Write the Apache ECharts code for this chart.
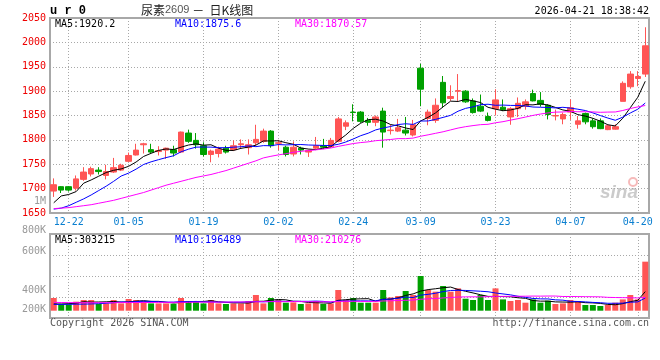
<!DOCTYPE html>
<html><head><meta charset="utf-8">
<script src="https://cdn.jsdelivr.net/npm/echarts@6/dist/echarts.min.js"></script>
<style>html,body{margin:0;padding:0;background:#fff}#c{width:660px;height:360px}</style>
</head><body><div id="c"></div>
<script>
const dates = ['12-18','12-19','12-22','12-23','12-24','12-25','12-26','12-29','12-30','12-31',
'01-05','01-06','01-07','01-08','01-09','01-12','01-13','01-14','01-15','01-16',
'01-19','01-20','01-21','01-22','01-23','01-26','01-27','01-28','01-29','01-30',
'02-02','02-03','02-04','02-05','02-06','02-09','02-10','02-11','02-12','02-13',
'02-24','02-25','02-26','02-27','03-02','03-03','03-04','03-05','03-06',
'03-09','03-10','03-11','03-12','03-13','03-16','03-17','03-18','03-19','03-20',
'03-23','03-24','03-25','03-26','03-27','03-30','03-31','04-01','04-02','04-03',
'04-07','04-08','04-09','04-10','04-13','04-14','04-15','04-16','04-17','04-20','04-21'];
const opens = [1695,1704,1704,1701,1719,1730,1738,1727,1734,1738,
1756,1769,1790,1780,1776,1779,1780,1775,1814,1799,
1788,1770,1772,1783,1780,1790,1784,1794,1797,1818,
1793,1785,1771,1783,1775,1783,1788,1786,1797,1828,
1857,1857,1840,1836,1859,1819,1818,1820,1810,1947,
1844,1840,1918,1885,1900,1900,1880,1869,1848,1864,
1867,1847,1864,1869,1895,1881,1871,1849,1843,1857,
1832,1854,1839,1839,1821,1822,1879,1909,1926,1935];
const closes = [1708,1697,1697,1720,1734,1741,1735,1735,1743,1748,
1768,1779,1792,1775,1778,1783,1773,1816,1797,1790,
1770,1777,1781,1775,1788,1792,1790,1801,1818,1788,
1794,1770,1785,1779,1778,1788,1785,1799,1843,1835,
1856,1838,1836,1847,1816,1820,1825,1814,1831,1904,
1857,1871,1876,1889,1901,1878,1856,1859,1840,1882,
1862,1864,1875,1878,1880,1873,1852,1850,1852,1866,
1839,1837,1827,1823,1829,1827,1916,1935,1930,1993];
const lows = [1683,1691,1694,1696,1716,1725,1729,1719,1732,1736,
1755,1768,1772,1773,1768,1761,1766,1773,1794,1782,
1766,1754,1764,1772,1777,1782,1770,1788,1794,1784,
1779,1766,1766,1770,1765,1781,1781,1784,1795,1820,
1838,1835,1829,1828,1784,1811,1816,1809,1807,1869,
1830,1835,1866,1880,1880,1876,1854,1857,1838,1850,
1859,1831,1847,1862,1879,1868,1842,1840,1832,1841,
1823,1832,1823,1822,1820,1821,1879,1905,1910,1929];
const highs = [1721,1705,1705,1727,1744,1745,1744,1749,1763,1751,
1774,1792,1794,1792,1787,1784,1788,1817,1821,1814,
1795,1780,1786,1788,1799,1801,1801,1831,1823,1820,
1800,1788,1797,1786,1780,1806,1802,1804,1847,1840,
1873,1859,1845,1850,1866,1831,1843,1847,1841,1956,
1862,1885,1931,1912,1935,1902,1885,1893,1856,1904,
1883,1867,1887,1883,1903,1898,1873,1862,1856,1883,
1849,1856,1844,1844,1832,1832,1920,1941,1941,2031];
const volumes = [197000,98000,98000,140000,166000,166000,104000,113000,166000,113000,
181000,166000,150000,113000,113000,113000,104000,197000,150000,150000,
113000,166000,113000,104000,113000,113000,150000,243000,113000,197000,
166000,124000,129000,104000,113000,150000,104000,113000,321000,166000,
197000,124000,124000,124000,321000,206000,228000,305000,243000,538000,
321000,295000,383000,295000,346000,186000,166000,243000,166000,346000,
175000,150000,166000,124000,175000,124000,155000,104000,113000,166000,
150000,88000,88000,73000,88000,124000,175000,243000,175000,760000];
const tickLabels = ['12-22','01-05','01-19','02-02','02-24','03-09','03-23','04-07','04-20'];
const priceTicks = [1650,1700,1750,1800,1850,1900,1950,2000,2050];
const priceMA5Lead = [1671,1685,1688,1694];
const priceMA10Lead = [1658,1660,1665,1672,1679,1687,1696,1705,1715];
const priceMA30Lead = [1659,1660,1661,1663,1665,1667,1670,1673,1676,1680,
1684,1688,1692,1697,1702,1707,1711,1715,1719,1723,
1726,1729,1733,1737,1742,1747,1752,1757,1763];
const volMA5Lead = [104000,104000,109000,116000];
const volMA10Lead = [98000,98000,99000,101000,102000,105000,109000,115000,124000];
const volMA30Lead = [129000,127000,126000,124000,124000,124000,124000,124000,124000,126000,
126000,127000,127000,127000,129000,129000,129000,130000,130000,132000,
132000,132000,133000,133000,135000,135000,136000,138000,140000];
const legendPrice = ['MA5:1920.2','MA10:1875.6','MA30:1870.57'];
const legendVol = ['MA5:303215','MA10:196489','MA30:210276'];
const volLabels = ['1M','800K','600K','400K','200K'];

function movingAvg(vals, n, lead) {
  return vals.map((v, i) => {
    if (i < n - 1) return lead[i];
    let s = 0; for (let k = i - n + 1; k <= i; k++) s += vals[k];
    return +(s / n).toFixed(2);
  });
}
const RED = '#ff5555', GREEN = '#00a000';
const candleData = opens.map((o, i) => [o, closes[i], lows[i], highs[i]]);
const volData = volumes.map((v, i) => ({value: v, itemStyle: {color: closes[i] >= opens[i] ? RED : GREEN}}));
const mono = 'DejaVu Sans Mono';
const isTick = (idx) => tickLabels.indexOf(dates[idx]) >= 0;
const dotted = {show: true, interval: (i) => isTick(i), alignWithLabel: true, lineStyle: {color: '#a8a8a8', type: [1, 2], width: 1}};
const hDotted = {show: true, lineStyle: {color: '#a8a8a8', type: [1, 2], width: 1}};

const volScale = 15500; // per pixel
const volMin = -7.3 * volScale, volMax = 76.7 * volScale;

const chart = echarts.init(document.getElementById('c'), null, {renderer: 'canvas'});
const graphics = [
  {type: 'text', left: 50, top: 5, style: {text: 'u r 0', fill: '#000', font: 'bold 12px "Liberation Mono"'}},
  {type: 'text', left: 141, top: 4, style: {rich: {a: {font: '12px "Noto Sans CJK SC"', fill: '#222'}, b: {font: '11px "Liberation Sans"', fill: '#555'}},
      text: '{a|尿素}{b|2609}{a| －  日K线图}'}},
  {type: 'text', right: 11, top: 6, style: {text: '2026-04-21 18:38:42', fill: '#000', font: '10px "' + mono + '"'}},
  {type: 'text', left: 55, top: 19, style: {text: legendPrice[0], fill: '#000', font: '10px "' + mono + '"'}},
  {type: 'text', left: 175, top: 19, style: {text: legendPrice[1], fill: '#0000ff', font: '10px "' + mono + '"'}},
  {type: 'text', left: 295, top: 19, style: {text: legendPrice[2], fill: '#ff00ff', font: '10px "' + mono + '"'}},
  {type: 'text', left: 55, top: 235, style: {text: legendVol[0], fill: '#000', font: '10px "' + mono + '"'}},
  {type: 'text', left: 175, top: 235, style: {text: legendVol[1], fill: '#0000ff', font: '10px "' + mono + '"'}},
  {type: 'text', left: 295, top: 235, style: {text: legendVol[2], fill: '#ff00ff', font: '10px "' + mono + '"'}},
  {type: 'text', left: 50, top: 318, style: {text: 'Copyright 2026 SINA.COM', fill: '#555', font: '10px "' + mono + '"'}},
  {type: 'text', right: 11, top: 318, style: {text: 'http://finance.sina.com.cn', fill: '#555', font: '10px "' + mono + '"'}},
  {type: 'text', left: 600, top: 183, style: {text: 'sina', fill: 'rgba(160,160,160,0.55)', font: 'italic bold 19px "Liberation Sans"'}},
  {type: 'circle', shape: {cx: 633, cy: 182, r: 4}, style: {fill: 'none', stroke: 'rgba(240,140,140,0.6)', lineWidth: 2}}
];
const volLabelY = [202, 231, 252, 291, 310];
volLabels.forEach((t, i) => graphics.push({type: 'text', right: 614, top: volLabelY[i] - 6,
  style: {text: t, fill: '#999', font: '10px "' + mono + '"', textAlign: 'right'}}));

chart.setOption({
  animation: false,
  backgroundColor: '#fff',
  grid: [
    {left: 50, top: 18, width: 599, height: 195, show: true, borderColor: '#a8a8a8', borderWidth: 2, backgroundColor: 'transparent'},
    {left: 50, top: 234, width: 599, height: 84, show: true, borderColor: '#a8a8a8', borderWidth: 2, backgroundColor: 'transparent'}
  ],
  xAxis: [
    {type: 'category', gridIndex: 0, data: dates, boundaryGap: true,
     axisLine: {show: false}, axisTick: {show: false},
     axisLabel: {interval: (i) => isTick(i), color: '#0a7fd0', fontFamily: mono, fontSize: 10, margin: 4},
     splitLine: dotted},
    {type: 'category', gridIndex: 1, data: dates, boundaryGap: true,
     axisLine: {show: false}, axisTick: {show: false}, axisLabel: {show: false},
     splitLine: dotted}
  ],
  yAxis: [
    {type: 'value', gridIndex: 0, min: priceTicks[0], max: priceTicks[priceTicks.length - 1], interval: 50,
     axisLine: {show: false}, axisTick: {show: false},
     axisLabel: {color: '#ee0000', fontFamily: mono, fontSize: 10, margin: 4, formatter: (v) => String(v)},
     splitLine: hDotted},
    {type: 'value', gridIndex: 1, min: volMin, max: volMax, interval: (volMax - volMin) / 4,
     axisLine: {show: false}, axisTick: {show: false}, axisLabel: {show: false},
     splitLine: hDotted}
  ],
  series: [
    {type: 'candlestick', xAxisIndex: 0, yAxisIndex: 0, data: candleData, barWidth: 6,
     itemStyle: {color: RED, color0: GREEN, borderColor: RED, borderColor0: GREEN, borderWidth: 1}},
    {type: 'line', xAxisIndex: 0, yAxisIndex: 0, data: movingAvg(closes, 5, priceMA5Lead), showSymbol: false, lineStyle: {color: '#000', width: 1}, itemStyle: {color: '#000'}},
    {type: 'line', xAxisIndex: 0, yAxisIndex: 0, data: movingAvg(closes, 10, priceMA10Lead), showSymbol: false, lineStyle: {color: '#0000ff', width: 1}},
    {type: 'line', xAxisIndex: 0, yAxisIndex: 0, data: movingAvg(closes, 30, priceMA30Lead), showSymbol: false, lineStyle: {color: '#ff00ff', width: 1}},
    {type: 'bar', xAxisIndex: 1, yAxisIndex: 1, data: volData, barWidth: 6},
    {type: 'line', xAxisIndex: 1, yAxisIndex: 1, data: movingAvg(volumes, 5, volMA5Lead), showSymbol: false, lineStyle: {color: '#000', width: 1}},
    {type: 'line', xAxisIndex: 1, yAxisIndex: 1, data: movingAvg(volumes, 10, volMA10Lead), showSymbol: false, lineStyle: {color: '#0000ff', width: 1}},
    {type: 'line', xAxisIndex: 1, yAxisIndex: 1, data: movingAvg(volumes, 30, volMA30Lead), showSymbol: false, lineStyle: {color: '#ff00ff', width: 1}}
  ],
  graphic: graphics
});
</script></body></html>
